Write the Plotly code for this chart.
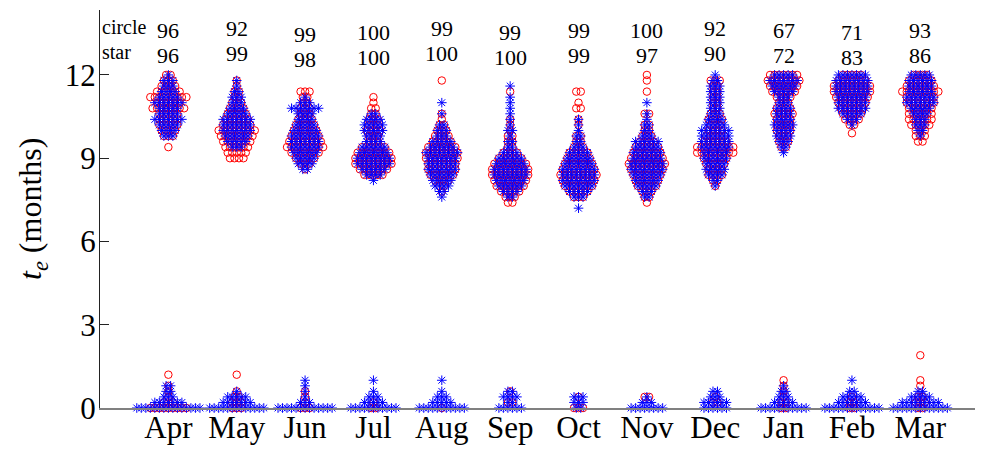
import plotly.graph_objects as go

# Month categories and the share (%) reported above each column
MONTHS = ["Apr", "May", "Jun", "Jul", "Aug", "Sep", "Oct", "Nov", "Dec", "Jan", "Feb", "Mar"]
CIRCLE_PCT = [96, 92, 99, 100, 99, 99, 99, 100, 92, 67, 71, 93]
STAR_PCT = [96, 99, 98, 100, 100, 100, 99, 97, 90, 72, 83, 86]

# t_e values (months) as (value, number of cases) for each month
APR_CIRCLE = [(0.0, 9), (0.2, 3), (0.4, 1), (0.6, 1), (0.8, 1), (1.2, 1),
              (9.4, 1), (9.8, 3), (10.0, 4), (10.2, 5), (10.4, 5), (10.6, 5), (10.8, 8),
              (11.0, 6), (11.2, 9), (11.4, 6), (11.6, 4), (11.8, 3), (12.0, 2)]
APR_STAR = [(0.0, 15), (0.2, 7), (0.4, 3), (0.6, 2), (0.8, 2),
            (9.8, 3), (10.0, 4), (10.2, 5), (10.4, 7), (10.6, 5), (10.8, 5), (11.0, 7),
            (11.2, 5), (11.4, 4), (11.6, 3), (11.8, 3), (12.0, 1)]

MAY_CIRCLE = [(0.0, 3), (0.2, 3), (0.4, 2), (0.6, 1), (1.2, 1),
              (9.0, 4), (9.2, 5), (9.4, 6), (9.6, 7), (9.8, 8), (10.0, 9), (10.2, 7), (10.4, 6),
              (10.6, 5), (10.8, 4), (11.0, 3), (11.2, 2), (11.4, 2), (11.6, 1), (11.8, 1)]
MAY_STAR = [(0.0, 13), (0.2, 7), (0.4, 5), (0.6, 1),
            (9.4, 3), (9.6, 5), (9.8, 6), (10.0, 7), (10.2, 7), (10.4, 7), (10.6, 5),
            (10.8, 4), (11.0, 3), (11.2, 3), (11.4, 2), (11.6, 1), (11.8, 1)]

JUN_CIRCLE = [(0.0, 3), (0.2, 1), (0.4, 1), (0.6, 1),
              (8.6, 1), (8.8, 3), (9.0, 5), (9.2, 7), (9.4, 9), (9.6, 8), (9.8, 7), (10.0, 6),
              (10.2, 5), (10.4, 4), (10.6, 3), (10.8, 3), (11.0, 2), (11.2, 2), (11.4, 3)]
JUN_STAR = [(0.0, 13), (0.2, 3), (0.4, 1), (0.6, 1), (0.8, 1), (1.0, 1),
            (8.6, 2), (8.8, 4), (9.0, 5), (9.2, 6), (9.4, 7), (9.6, 7), (9.8, 7), (10.0, 6),
            (10.2, 5), (10.4, 4), (10.6, 4), (10.8, 7), (11.0, 3), (11.2, 1)]

JUL_CIRCLE = [(0.0, 2), (0.2, 1),
              (8.4, 5), (8.6, 7), (8.8, 9), (9.0, 9), (9.2, 8), (9.4, 6), (9.6, 3), (9.8, 3),
              (10.0, 4), (10.2, 3), (10.4, 3), (10.6, 2), (10.8, 2), (11.0, 1), (11.2, 1)]
JUL_STAR = [(0.0, 11), (0.2, 5), (0.4, 3), (0.6, 1), (1.0, 1),
            (8.2, 1), (8.4, 4), (8.6, 6), (8.8, 8), (9.0, 8), (9.2, 7), (9.4, 6), (9.6, 4),
            (9.8, 4), (10.0, 5), (10.2, 5), (10.4, 4), (10.6, 2)]

AUG_CIRCLE = [(0.0, 1),
              (7.8, 1), (8.0, 2), (8.2, 4), (8.4, 6), (8.6, 7), (8.8, 7), (9.0, 8), (9.2, 8),
              (9.4, 7), (9.6, 5), (9.8, 4), (10.0, 3), (10.2, 2), (10.4, 1), (10.6, 1), (11.8, 1)]
AUG_STAR = [(0.0, 11), (0.2, 5), (0.4, 3), (0.6, 1), (1.0, 1),
            (7.6, 1), (7.8, 2), (8.0, 4), (8.2, 5), (8.4, 6), (8.6, 7), (8.8, 7), (9.0, 7),
            (9.2, 8), (9.4, 6), (9.6, 5), (9.8, 3), (10.0, 3), (10.2, 2), (10.6, 1), (11.0, 1)]

SEP_CIRCLE = [(0.2, 2), (0.6, 1),
              (7.4, 2), (7.6, 3), (7.8, 5), (8.0, 7), (8.2, 8), (8.4, 9), (8.6, 9), (8.8, 8),
              (9.0, 6), (9.2, 4), (9.4, 2), (9.6, 2), (9.8, 2), (10.0, 1), (10.2, 1), (10.4, 1),
              (11.4, 1)]
SEP_STAR = [(0.0, 6), (0.2, 2), (0.4, 4), (0.6, 2),
            (7.6, 2), (7.8, 4), (8.0, 6), (8.2, 7), (8.4, 8), (8.6, 8), (8.8, 7), (9.0, 6),
            (9.2, 4), (9.4, 2), (9.6, 2), (9.8, 1), (10.0, 2), (10.2, 1), (10.4, 1), (10.6, 1),
            (10.8, 1), (11.0, 1), (11.2, 1), (11.6, 1)]

OCT_CIRCLE = [(0.0, 3), (0.4, 1),
              (7.6, 3), (7.8, 5), (8.0, 7), (8.2, 8), (8.4, 9), (8.6, 8), (8.8, 7), (9.0, 6),
              (9.2, 5), (9.4, 3), (9.6, 2), (9.8, 2), (10.2, 1), (10.4, 1), (10.8, 2), (11.0, 1),
              (11.4, 2)]
OCT_STAR = [(0.0, 2), (0.2, 3), (0.4, 3),
            (7.2, 1), (7.6, 3), (7.8, 5), (8.0, 7), (8.2, 8), (8.4, 8), (8.6, 8), (8.8, 7),
            (9.0, 6), (9.2, 5), (9.4, 3), (9.6, 2), (9.8, 2), (10.0, 1), (10.2, 1), (10.4, 1)]

NOV_CIRCLE = [(0.4, 2),
              (7.4, 1), (7.6, 2), (7.8, 3), (8.0, 5), (8.2, 6), (8.4, 7), (8.6, 8), (8.8, 9),
              (9.0, 8), (9.2, 7), (9.4, 6), (9.6, 4), (9.8, 3), (10.0, 2), (10.2, 2), (10.6, 2),
              (11.4, 1), (11.8, 1), (12.0, 1)]
NOV_STAR = [(0.0, 8), (0.2, 3), (0.4, 1),
            (7.6, 2), (7.8, 3), (8.0, 5), (8.2, 6), (8.4, 7), (8.6, 8), (8.8, 8), (9.0, 7),
            (9.2, 7), (9.4, 6), (9.6, 6), (9.8, 3), (10.0, 2), (10.2, 2), (10.4, 1), (10.6, 1),
            (11.0, 1)]

DEC_CIRCLE = [(0.2, 2), (0.4, 1),
              (8.0, 1), (8.2, 2), (8.4, 4), (8.6, 4), (8.8, 5), (9.0, 6), (9.2, 9), (9.4, 9),
              (9.6, 6), (9.8, 5), (10.0, 4), (10.2, 3), (10.4, 4), (10.6, 3), (10.8, 2),
              (11.0, 2), (11.2, 2), (11.4, 2), (11.6, 2), (11.8, 3)]
DEC_STAR = [(0.0, 6), (0.2, 6), (0.4, 3), (0.6, 2),
            (8.0, 1), (8.2, 2), (8.4, 4), (8.6, 5), (8.8, 5), (9.0, 6), (9.2, 6), (9.4, 7),
            (9.6, 7), (9.8, 7), (10.0, 7), (10.2, 5), (10.4, 4), (10.6, 3), (10.8, 3),
            (11.0, 3), (11.2, 3), (11.4, 3), (11.6, 3), (11.8, 2), (12.0, 1)]

JAN_CIRCLE = [(0.0, 2), (0.2, 2), (0.4, 1), (0.6, 1), (0.8, 1), (1.0, 1),
              (9.4, 2), (9.6, 3), (9.8, 3), (10.0, 4), (10.2, 4), (10.4, 4), (10.6, 5),
              (10.8, 4), (11.0, 3), (11.2, 4), (11.4, 6), (11.6, 7), (11.8, 8), (12.0, 7)]
JAN_STAR = [(0.0, 11), (0.2, 5), (0.4, 3), (0.6, 2), (0.8, 1),
            (9.2, 1), (9.4, 2), (9.6, 3), (9.8, 4), (10.0, 4), (10.2, 5), (10.4, 4), (10.6, 4),
            (10.8, 4), (11.0, 3), (11.2, 3), (11.4, 5), (11.6, 6), (11.8, 7), (12.0, 5)]

FEB_CIRCLE = [(0.0, 2), (0.2, 2), (0.4, 1),
              (9.9, 1), (10.2, 2), (10.4, 4), (10.6, 5), (10.8, 6), (11.0, 7), (11.2, 8),
              (11.4, 9), (11.6, 9), (11.8, 7), (12.0, 5)]
FEB_STAR = [(0.0, 13), (0.2, 7), (0.4, 5), (0.6, 2), (1.0, 1),
            (10.2, 1), (10.4, 3), (10.6, 5), (10.8, 7), (11.0, 7), (11.2, 7), (11.4, 8),
            (11.6, 8), (11.8, 8), (12.0, 7)]

MAR_CIRCLE = [(0.0, 2), (0.2, 3), (0.4, 2), (0.8, 1), (1.0, 1), (1.9, 1),
              (9.6, 2), (9.8, 3), (10.0, 3), (10.2, 5), (10.4, 6), (10.6, 6), (10.8, 6),
              (11.0, 7), (11.2, 7), (11.4, 9), (11.6, 7), (11.8, 6), (12.0, 4)]
MAR_STAR = [(0.0, 13), (0.2, 9), (0.4, 5), (0.6, 2),
            (9.8, 1), (10.0, 2), (10.2, 3), (10.4, 3), (10.6, 4), (10.8, 5), (11.0, 7),
            (11.2, 7), (11.4, 6), (11.6, 6), (11.8, 6), (12.0, 5)]

CIRCLE_SETS = [APR_CIRCLE, MAY_CIRCLE, JUN_CIRCLE, JUL_CIRCLE, AUG_CIRCLE, SEP_CIRCLE,
               OCT_CIRCLE, NOV_CIRCLE, DEC_CIRCLE, JAN_CIRCLE, FEB_CIRCLE, MAR_CIRCLE]
STAR_SETS = [APR_STAR, MAY_STAR, JUN_STAR, JUL_STAR, AUG_STAR, SEP_STAR,
             OCT_STAR, NOV_STAR, DEC_STAR, JAN_STAR, FEB_STAR, MAR_STAR]

# Layout helpers
SPREAD_STEP = 0.066          # horizontal step between neighbours in one value bin
LABEL_DROP = [2, 0, 6, 4, 0, 4, 2, 2, 0, 2, 4, 2]   # per-column vertical nudge of the labels (px)
SERIF = "Liberation Serif"


def spread(center, groups):
    """Place repeated values side by side around the column centre (plotSpread style)."""
    xs, ys = [], []
    for value, count in groups:
        for k in range(count):
            xs.append(center + (k - (count - 1) / 2.0) * SPREAD_STEP)
            ys.append(value)
    return xs, ys


fig = go.Figure()

cx, cy = [], []
sx, sy = [], []
for i, (cset, sset) in enumerate(zip(CIRCLE_SETS, STAR_SETS)):
    xs, ys = spread(i + 1, cset)
    cx += xs
    cy += ys
    xs, ys = spread(i + 1, sset)
    sx += xs
    sy += ys

fig.add_trace(go.Scatter(
    x=cx, y=cy, mode="markers", name="circle", cliponaxis=False,
    marker=dict(symbol="circle-open", size=7.5, color="#ff0000", line=dict(width=1, color="#ff0000")),
))
fig.add_trace(go.Scatter(
    x=sx, y=sy, mode="markers", name="star", cliponaxis=False,
    marker=dict(symbol="asterisk-open", size=8, color="#0000ff", line=dict(width=1, color="#0000ff")),
))

annotations = []
# Row captions
for text, py in (("circle", 27), ("star", 52)):
    annotations.append(dict(
        text=text, xref="paper", yref="paper", x=0, y=1, xanchor="left", yanchor="middle",
        xshift=0, yshift=-(py - 10), showarrow=False, font=dict(family=SERIF, size=20, color="black"),
    ))
# Percentages for each month
for i, (cp, sp) in enumerate(zip(CIRCLE_PCT, STAR_PCT)):
    for val, py in ((cp, 28), (sp, 53)):
        annotations.append(dict(
            text=str(val), xref="x", yref="paper", x=i + 1, y=1, xanchor="center", yanchor="middle",
            yshift=-(py + LABEL_DROP[i] - 10), showarrow=False,
            font=dict(family=SERIF, size=22, color="black"),
        ))
# Y axis title
annotations.append(dict(
    text="<i>t</i><sub><i>e</i></sub> (months)", xref="paper", yref="paper", x=0, y=0.5,
    xanchor="center", yanchor="middle", xshift=-68, textangle=-90, showarrow=False,
    font=dict(family=SERIF, size=32, color="black"),
))

fig.update_layout(
    width=987, height=450,
    margin=dict(l=100, r=12, t=10, b=42, autoexpand=False),
    paper_bgcolor="white", plot_bgcolor="white",
    showlegend=False,
    annotations=annotations,
    xaxis=dict(
        range=[0, 12.8], tickmode="array", tickvals=list(range(1, 13)), ticktext=MONTHS,
        showgrid=False, zeroline=False, showline=True, linecolor="#808080", linewidth=2,
        ticks="", automargin=False, ticklabelstandoff=-9,
        tickfont=dict(family=SERIF, size=31, color="black"),
    ),
    yaxis=dict(
        range=[0, 14.34], tickmode="array", tickvals=[0, 3, 6, 9, 12],
        showgrid=False, zeroline=False, showline=True, linecolor="#222222", linewidth=1,
        ticks="inside", ticklen=9, tickcolor="#222222", automargin=False, ticklabelstandoff=-3,
        tickfont=dict(family=SERIF, size=31, color="black"),
    ),
)

fig.write_html("out.html")
